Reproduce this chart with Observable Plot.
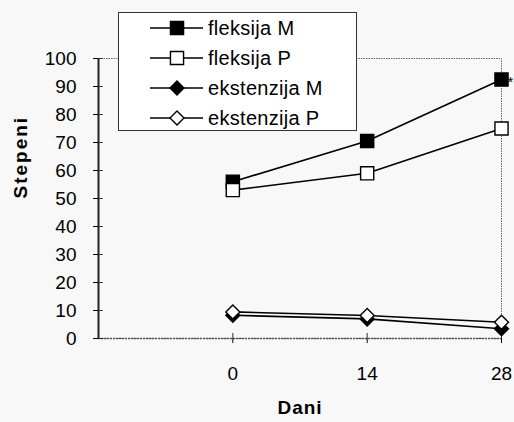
<!DOCTYPE html>
<html><head><meta charset="utf-8">
<script src="https://cdn.jsdelivr.net/npm/d3@7"></script>
<script src="https://cdn.jsdelivr.net/npm/@observablehq/plot@0.6"></script>
<style>
html,body{margin:0;padding:0;background:#f8f8f8;}
#chart{position:relative;width:514px;height:422px;}
</style>
</head><body><div id="chart"></div>
<script>
const days = [0, 14, 28];
const seriesNames = ["fleksija M", "fleksija P", "ekstenzija M", "ekstenzija P"];
const fleksijaM = [56, 70.5, 92.5];
const fleksijaP = [53, 59, 75];
const ekstenzijaM = [8.3, 7, 3.5];
const ekstenzijaP = [9.5, 8.2, 5.8];
const yTicks = [0, 10, 20, 30, 40, 50, 60, 70, 80, 90, 100];
const xTicks = [0, 14, 28];
const xLabel = "Dani";
const yLabel = "Stepeni";

const valuesBySeries = [fleksijaM, fleksijaP, ekstenzijaM, ekstenzijaP];
const symbols = ["square", "square", "diamond2", "diamond2"];
const fills = ["black", "white", "black", "white"];
const rs = [7.4, 7.4, 6.3, 6.3];
const data = [];
valuesBySeries.forEach((vals, i) => vals.forEach((v, j) => data.push({series: seriesNames[i], day: days[j], value: v})));

const xMin = -14;
const font = "'Liberation Sans', Arial, Helvetica, sans-serif";

const dotMarks = seriesNames.map((s, i) => Plot.dot(data.filter(d => d.series === s), {
  x: "day", y: "value", symbol: () => symbols[i], r: rs[i], fill: fills[i], stroke: "black", strokeWidth: 1.4
}));

const last = data.filter(d => d.series === seriesNames[0] && d.day === days[days.length - 1]);

const plot = Plot.plot({
  width: 514, height: 422,
  marginLeft: 98, marginRight: 13, marginTop: 58, marginBottom: 84,
  style: {fontFamily: font, fontSize: "19px", background: "transparent", color: "black"},
  x: {domain: [xMin, 28], ticks: xTicks, label: null},
  y: {domain: [0, 100], ticks: yTicks, label: null},
  symbol: {type: "identity"},
  marks: [
    Plot.frame({stroke: "#666", strokeDasharray: "1.5,1"}),
    Plot.ruleY([0], {stroke: "#555", strokeWidth: 1.5, strokeDasharray: "2,1"}),
    Plot.ruleX([xMin], {stroke: "#222", strokeWidth: 2}),
    Plot.axisY({ticks: yTicks, tickSize: 5, tickPadding: 17, tickFormat: d => d, fontSize: 19, label: null}),
    Plot.ruleY(yTicks, {x1: xMin, x2: xMin + 0.5, stroke: "#333"}),
    Plot.axisX({ticks: xTicks, tickSize: 5, tickPadding: 23, tickFormat: d => d, fontSize: 19, label: null}),
    Plot.ruleX(xTicks, {y1: 0, y2: 1.8, stroke: "#333"}),
    Plot.line(data, {x: "day", y: "value", z: "series", stroke: "black", strokeWidth: 1.6}),
    ...dotMarks,
    Plot.text(last, {x: "day", y: "value", text: () => "*", dx: 6, dy: 3, fontSize: 15, textAnchor: "start"}),
    Plot.text([yLabel], {frameAnchor: "left", dx: -78, rotate: -90, fontWeight: "bold", fontSize: 19}),
    Plot.text([xLabel], {frameAnchor: "bottom", dy: 75, fontWeight: "bold", fontSize: 19})
  ]
});
document.getElementById("chart").appendChild(plot);

const svg = d3.select(plot);
svg.selectAll("text").filter(function() { return this.textContent === yLabel; }).attr("letter-spacing", "2px");
svg.selectAll("text").filter(function() { return this.textContent === xLabel; }).attr("letter-spacing", "1px");

// Legend box drawn inside the SVG
const lg = svg.append("g").attr("font-family", font).attr("font-size", 20).attr("text-anchor", "start");
lg.append("rect").attr("x", 118.5).attr("y", 12.5).attr("width", 238).attr("height", 118)
  .attr("fill", "white").attr("stroke", "#333").attr("stroke-width", 1);
const symGen = {square: d3.symbolSquare, diamond2: d3.symbolDiamond2};
seriesNames.forEach((s, i) => {
  const y = 28 + i * 30;
  const g = lg.append("g");
  g.append("line").attr("x1", 150).attr("x2", 203).attr("y1", y).attr("y2", y).attr("stroke", "black").attr("stroke-width", 1.6);
  g.append("path").attr("transform", `translate(177,${y})`)
    .attr("d", d3.symbol(symGen[symbols[i]], rs[i] * rs[i] * Math.PI)())
    .attr("fill", fills[i]).attr("stroke", "black").attr("stroke-width", 1.4);
  g.append("text").attr("x", 208).attr("y", y).attr("dy", "0.35em").attr("text-anchor", "start")
    .attr("letter-spacing", "0.3px").text(s);
});
</script>
</body></html>
